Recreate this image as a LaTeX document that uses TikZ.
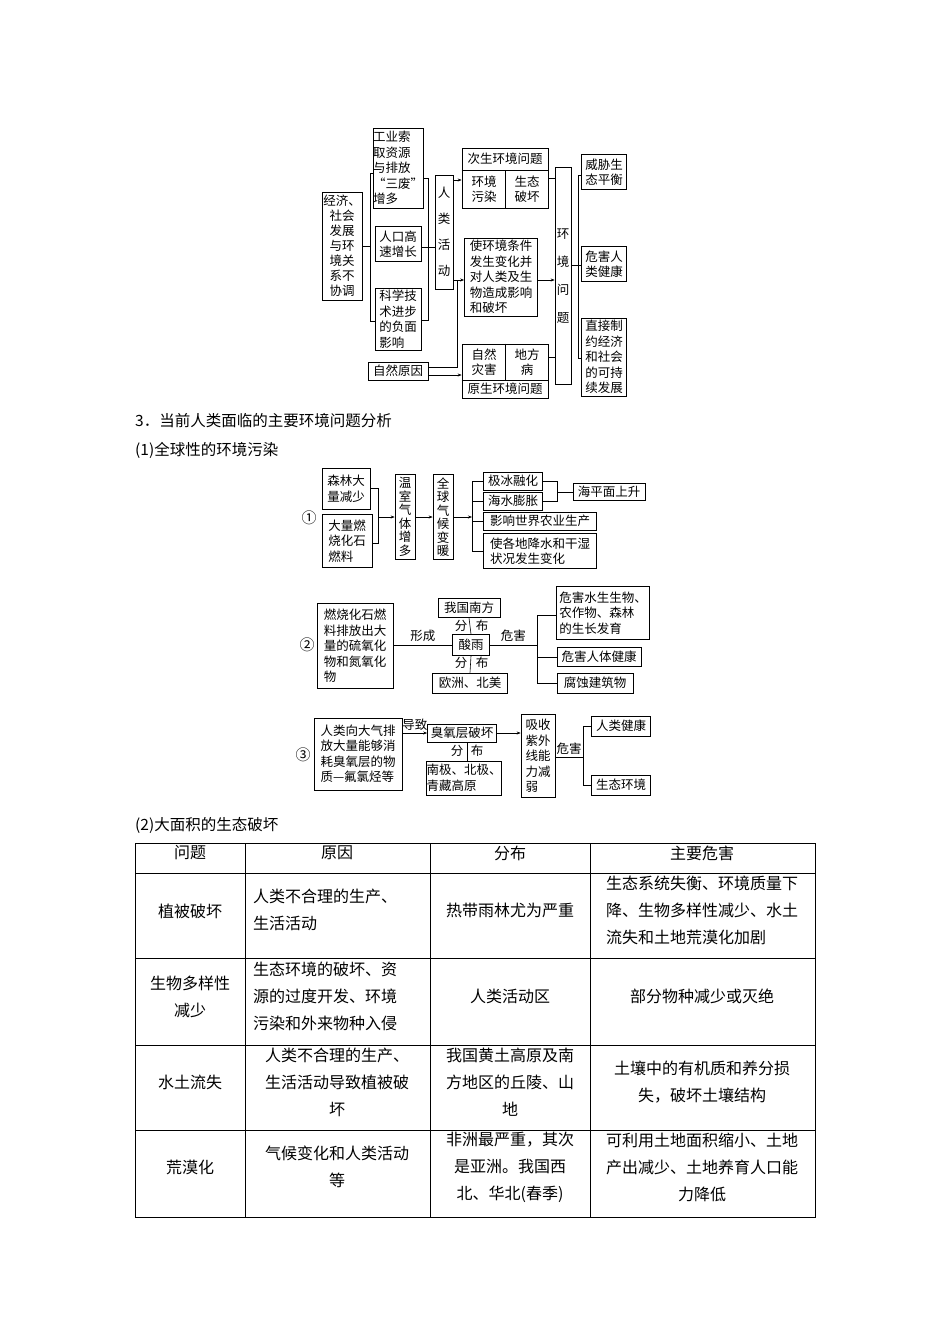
\documentclass[tikz,border=0pt]{standalone}
\usepackage{fontspec}
\setmainfont{Noto Sans CJK SC}
\usetikzlibrary{arrows.meta}
\newcommand{\fsa}{\fontsize{12.5}{15.5}\selectfont}
\newcommand{\fsv}{\fontsize{12.5}{26}\selectfont}
\newcommand{\fst}{\fontsize{16}{27}\selectfont}
\begin{document}
\begin{tikzpicture}[x=1pt,y=-1pt,
  bx/.style={draw,line width=0.7pt,inner sep=0pt,align=center,font=\fsa},
  ln/.style={line width=0.6pt},
  ar/.style={line width=0.6pt,-{Stealth[length=4pt,width=3pt]}},
  lb/.style={inner sep=0pt,font=\fsa},
  tx/.style={inner sep=0pt,font=\fst,align=center}]
\useasboundingbox (0,0) rectangle (950,1344);
% ---------- top diagram
\node[bx,minimum width=40,minimum height=108,font=\fontsize{12.5}{15}\selectfont] (A) at (342,246) {经济、\\社会\\发展\\与环\\境关\\系不\\协调};
\node[bx,minimum width=46,minimum height=80,align=left] (B1) at (398,168) {工业索\\取资源\\与排放\\“三废”\\增多};
\node[bx,minimum width=46,minimum height=35,align=left] (B2) at (398,244) {人口高\\速增长};
\node[bx,minimum width=46,minimum height=62,align=left] (B3) at (398,319) {科学技\\术进步\\的负面\\影响};
\node[bx,minimum width=18,minimum height=114,text width=13pt,font=\fsv] (C) at (444,232) {人\\类\\活\\动};
\node[bx,minimum width=86,minimum height=60] (D) at (505,178) {};
\node[lb] (Dt) at (505,159) {次生环境问题};
\draw[ln] (D.west|-0,170) -- (D.east|-0,170);
\draw[ln] (505,170) -- (D.south);
\node[lb,align=center] (D1) at (484,189) {环境\\污染};
\node[lb,align=center] (D2) at (527,189) {生态\\破坏};
\node[bx,minimum width=73,minimum height=78,align=left] (E) at (501,277) {使环境条件\\发生变化并\\对人类及生\\物造成影响\\和破坏};
\node[bx,minimum width=86,minimum height=54] (F) at (505,371) {};
\draw[ln] (F.west|-0,380) -- (F.east|-0,380);
\draw[ln] (F.north) -- (505,380);
\node[lb,align=center] (F1) at (484,362) {自然\\灾害};
\node[lb,align=center] (F2) at (527,362) {地方\\病};
\node[lb] (Ft) at (505,389) {原生环境问题};
\node[bx,minimum width=60,minimum height=18] (N) at (398,371) {自然原因};
\node[bx,minimum width=16,minimum height=217,text width=13pt,font=\fontsize{12.5}{28}\selectfont] (G) at (563,276) {环\\境\\问\\题};
\node[bx,minimum width=45,minimum height=35,align=left] (H1) at (604,172) {威胁生\\态平衡};
\node[bx,minimum width=45,minimum height=35,align=left] (H2) at (604,264) {危害人\\类健康};
\node[bx,minimum width=45,minimum height=78,align=left] (H3) at (604,357) {直接制\\约经济\\和社会\\的可持\\续发展};
\draw[ln] (A.east|-0,246) -- (370,246);
\draw[ln] (B1.west|-0,173) -- (370,173) -- (370,321) -- (B3.west|-0,321);
\draw[ln] (B1.east|-0,178) -- (428,178) -- (428,320) -- (B3.east|-0,320);
\draw[ln] (B2.east|-0,247) -- (C.west|-0,247);
\draw[ar] (C.east|-0,180) -- (D.west|-0,180);
\draw[ar] (C.east|-0,280) -- (E.west|-0,280);
\draw[ln] (N.east|-0,367) -- (457,367) -- (457,280);
\draw[ar] (N.east|-0,375) -- (F.west|-0,375);
\draw[ln] (D.east|-0,178) -- (G.west|-0,178);
\draw[ar] (E.east|-0,280) -- (G.west|-0,280);
\draw[ln] (F.east|-0,357) -- (G.west|-0,357);
\draw[ln] (H1.west|-0,175) -- (578,175) -- (578,358) -- (H3.west|-0,358);
\draw[ln] (G.east|-0,265) -- (H2.west|-0,265);
% ---------- headings
\node[anchor=west,inner sep=0pt,font=\fontsize{15.5}{18}\selectfont] (h1) at (135,421) {3．当前人类面临的主要环境问题分析};
\node[anchor=west,inner sep=0pt,font=\fontsize{15.5}{18}\selectfont] (h2) at (135,450) {(1)全球性的环境污染};
\node[anchor=west,inner sep=0pt,font=\fontsize{15.5}{18}\selectfont] (h3) at (135,825) {(2)大面积的生态破坏};
% ---------- (1)
\node[inner sep=0pt,font=\fontsize{15}{18}\selectfont] (c1) at (309,518) {①};
\node[bx,minimum width=48,minimum height=41,align=left] (n11) at (346,489) {森林大\\量减少};
\node[bx,minimum width=50,minimum height=53,align=left] (n12) at (347,541) {大量燃\\烧化石\\燃料};
\node[bx,minimum width=20,minimum height=85,text width=13pt,font=\fontsize{12.5}{13.5}\selectfont] (n13) at (405,517) {温\\室\\气\\体\\增\\多};
\node[bx,minimum width=20,minimum height=85,text width=13pt,font=\fontsize{12.5}{13.5}\selectfont] (n14) at (443,517) {全\\球\\气\\候\\变\\暖};
\node[bx,minimum width=59,minimum height=18] (n15) at (513,481) {极冰融化};
\node[bx,minimum width=59,minimum height=18] (n16) at (513,501) {海水膨胀};
\node[bx,minimum width=113,minimum height=18] (n17) at (540,521) {影响世界农业生产};
\node[bx,minimum width=113,minimum height=35,align=left] (n18) at (540,551) {使各地降水和干湿\\状况发生变化};
\node[bx,minimum width=72,minimum height=17] (n19) at (609,492) {海平面上升};
\draw[ln] (n11.east|-0,488) -- (378,488) -- (378,543) -- (n12.east|-0,543);
\draw[ar] (378,517) -- (n13.west|-0,517);
\draw[ar] (n13.east|-0,517) -- (n14.west|-0,517);
\draw[ar] (n14.east|-0,517) -- (472,517);
\draw[ln] (n15.west) -- (472,481) -- (472,551) -- (n18.west);
\draw[ln] (472,501) -- (n16.west);
\draw[ln] (472,521) -- (n17.west);
\draw[ln] (n15.east) -- (557,481) -- (557,501) -- (n16.east);
\draw[ln] (557,492) -- (n19.west);
% ---------- (2)
\node[inner sep=0pt,font=\fontsize{15}{18}\selectfont] (c2) at (307,645) {②};
\node[bx,minimum width=76,minimum height=85,align=left] (m1) at (355,646) {燃烧化石燃\\料排放出大\\量的硫氧化\\物和氮氧化\\物};
\node[bx,minimum width=37,minimum height=21] (m2) at (471,645) {酸雨};
\node[bx,minimum width=62,minimum height=19] (m3) at (469,608) {我国南方};
\node[bx,minimum width=75,minimum height=20] (m4) at (470,683) {欧洲、北美};
\node[bx,minimum width=93,minimum height=53,align=left] (m5) at (603,613) {危害水生生物、\\农作物、森林\\的生长发育};
\node[bx,minimum width=84,minimum height=19] (m6) at (599,657) {危害人体健康};
\node[bx,minimum width=76,minimum height=20] (m7) at (595,683) {腐蚀建筑物};
\draw[ln] (m1.east|-m2) -- node[lb,above=3pt] {形成} (m2.west);
\draw[ln] (m3.south) -- (m2.north);
\draw[ln] (m2.south) -- (m4.north);
\node[lb] (f1) at (461,626) {分};
\node[lb] (b1) at (482,626) {布};
\node[lb] (f2) at (461,663) {分};
\node[lb] (b2) at (482,663) {布};
\draw[ln] (m2.east) -- node[lb,above=3pt] {危害} (537,645);
\draw[ln] (m5.west|-0,615) -- (537,615) -- (537,683) -- (m7.west);
\draw[ln] (537,657) -- (m6.west);
% ---------- (3)
\node[inner sep=0pt,font=\fontsize{15}{18}\selectfont] (c3) at (303,755) {③};
\node[bx,minimum width=88,minimum height=72,align=left] (p1) at (358,754) {人类向大气排\\放大量能够消\\耗臭氧层的物\\质—氟氯烃等};
\node[bx,minimum width=69,minimum height=18] (p2) at (462,733) {臭氧层破坏};
\node[bx,minimum width=72,minimum height=34,align=left] (p3) at (464,778) {南极、北极、\\青藏高原};
\node[bx,minimum width=34,minimum height=83,align=left] (p4) at (538,756) {吸收\\紫外\\线能\\力减\\弱};
\node[bx,minimum width=59,minimum height=20] (p5) at (621,726) {人类健康};
\node[bx,minimum width=59,minimum height=20] (p6) at (621,785) {生态环境};
\draw[ar] (p1.east|-p2) -- node[lb,above=2pt] {导致} (p2.west);
\draw[ln] (p2.south-|467,0) -- (p3.north-|467,0);
\node[lb] (f3) at (457,751) {分};
\node[lb] (b3) at (477,751) {布};
\draw[ar] (p2.east) -- (p4.west|-p2);
\draw[ln] (p4.east|-0,757) -- node[lb,above=2pt] {危害} (583,757);
\draw[ln] (p5.west) -- (583,726) -- (583,785) -- (p6.west);
% ---------- table
\draw[line width=0.8pt] (135,843) rectangle (815,1217);
\foreach \yy in {873,958,1045,1130} \draw[line width=0.6pt] (135,\yy) -- (815,\yy);
\foreach \xx in {245,430,590} \draw[line width=0.6pt] (\xx,843) -- (\xx,1217);
\node[tx] (t11) at (190,853) {问题};
\node[tx] (t12) at (337,853) {原因};
\node[tx] (t13) at (510,853) {分布};
\node[tx] (t14) at (702,853) {主要危害};
\node[tx] (t21) at (190,911) {植被破坏};
\node[tx,align=left,anchor=west] (t22) at (253,910) {人类不合理的生产、\\生活活动};
\node[tx] (t23) at (510,910) {热带雨林尤为严重};
\node[tx,align=left] (t24) at (702,910) {生态系统失衡、环境质量下\\降、生物多样性减少、水土\\流失和土地荒漠化加剧};
\node[tx] (t31) at (190,997) {生物多样性\\减少};
\node[tx,align=left,anchor=west] (t32) at (253,996) {生态环境的破坏、资\\源的过度开发、环境\\污染和外来物种入侵};
\node[tx] (t33) at (510,996) {人类活动区};
\node[tx] (t34) at (702,996) {部分物种减少或灭绝};
\node[tx] (t41) at (190,1082) {水土流失};
\node[tx] (t42) at (337,1082) {人类不合理的生产、\\生活活动导致植被破\\坏};
\node[tx] (t43) at (510,1082) {我国黄土高原及南\\方地区的丘陵、山\\地};
\node[tx] (t44) at (702,1082) {土壤中的有机质和养分损\\失，破坏土壤结构};
\node[tx] (t51) at (190,1167) {荒漠化};
\node[tx] (t52) at (337,1167) {气候变化和人类活动\\等};
\node[tx] (t53) at (510,1167) {非洲最严重，其次\\是亚洲。我国西\\北、华北(春季)};
\node[tx] (t54) at (702,1167) {可利用土地面积缩小、土地\\产出减少、土地养育人口能\\力降低};
\end{tikzpicture}
\end{document}
